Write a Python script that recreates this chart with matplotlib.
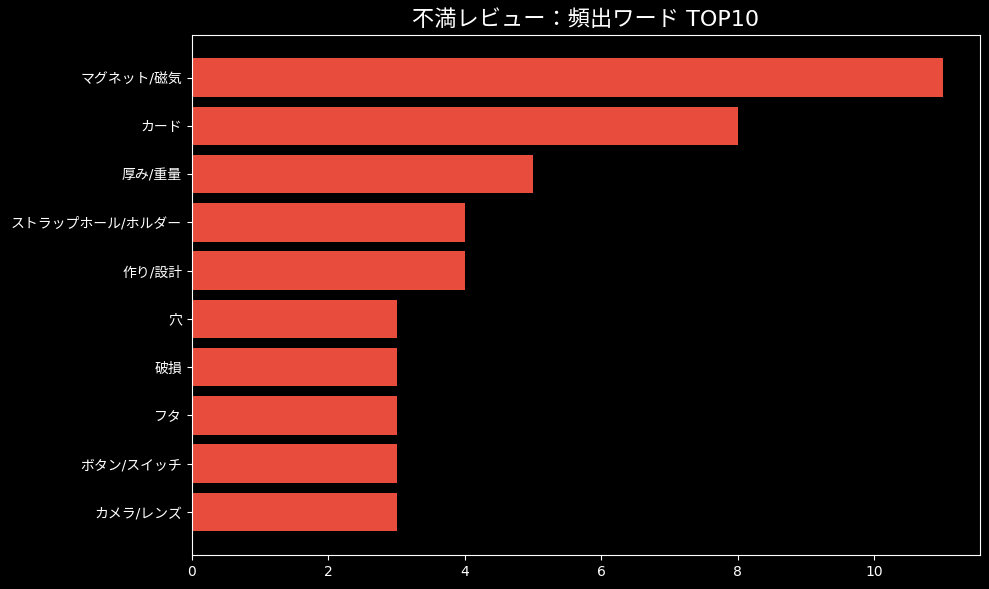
import matplotlib
matplotlib.use("Agg")
import matplotlib.pyplot as plt

plt.style.use("dark_background")
plt.rcParams['font.family'] = ['DejaVu Sans', 'Noto Sans CJK JP']

# top 10 complaint words
words = ["マグネット/磁気", "カード", "厚み/重量", "ストラップホール/ホルダー", "作り/設計",
         "穴", "破損", "フタ", "ボタン/スイッチ", "カメラ/レンズ"]
counts = [11, 8, 5, 4, 4, 3, 3, 3, 3, 3]

fig = plt.figure(figsize=(9.89, 5.89), dpi=100)
ax = fig.add_axes([0.194, 0.058, 0.797, 0.883])

ax.barh(words[::-1], counts[::-1], color="#e74c3c", height=0.8)
ax.set_title("不満レビュー：頻出ワード TOP10", fontsize=16)

fig.savefig("out.png", dpi=100)
